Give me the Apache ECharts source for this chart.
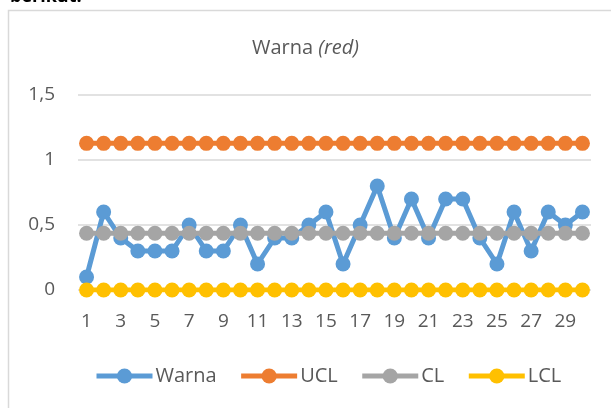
<!doctype html>
<html>
    <head>
        <meta charset="utf-8">
        <style>
            html, body { margin: 0; padding: 0; background: #fff; overflow: hidden; }
            #main { width: 611px; height: 408px; }
            #above {
                position: absolute; left: 10px; top: -17px;
                font: bold 18px "Open Sans", "Noto Sans", sans-serif; color: #000;
            }
        </style>
    </head>
    <body>
        <div id="main"></div>
        <div id="above">berikut:</div>
        <script src="https://cdn.jsdelivr.net/npm/echarts@6/dist/echarts.min.js"></script>
        <script>
            var categories = ['1','2','3','4','5','6','7','8','9','10','11','12','13','14','15',
                '16','17','18','19','20','21','22','23','24','25','26','27','28','29','30'];
            var warna = [0.1, 0.6, 0.4, 0.3, 0.3, 0.3, 0.5, 0.3, 0.3, 0.5, 0.2, 0.4, 0.4, 0.5, 0.6,
                0.2, 0.5, 0.8, 0.4, 0.7, 0.4, 0.7, 0.7, 0.4, 0.2, 0.6, 0.3, 0.6, 0.5, 0.6];
            var ucl = 1.128;
            var cl = 0.436;
            var lcl = 0;

            function constant(v) {
                return categories.map(function () { return v; });
            }

            var font = '"Open Sans", "Noto Sans", sans-serif';
            var chart = echarts.init(document.getElementById('main'));

            function lineSeries(name, data, color) {
                return {
                    name: name,
                    type: 'line',
                    data: data,
                    symbol: 'circle',
                    symbolSize: 15,
                    showAllSymbol: true,
                    lineStyle: { color: color, width: 5 },
                    itemStyle: { color: color },
                    animation: false
                };
            }

            chart.setOption({
                textStyle: { fontFamily: font },
                graphic: [
                    {
                        type: 'rect',
                        shape: { x: 8.5, y: 10.5, width: 640, height: 420 },
                        style: { fill: null, stroke: '#d9d9d9', lineWidth: 1.5 },
                        silent: true
                    }
                ],
                title: {
                    text: 'Warna {i|(red)}',
                    left: 'center',
                    top: 33,
                    textStyle: {
                        fontSize: 20,
                        fontWeight: 'normal',
                        color: '#595959',
                        rich: {
                            i: { fontSize: 20, fontStyle: 'italic', color: '#595959' }
                        }
                    }
                },
                grid: {
                    left: 78,
                    right: 20,
                    top: 95,
                    bottom: 118
                },
                legend: {
                    top: 361,
                    left: 89,
                    itemWidth: 56,
                    itemHeight: 19,
                    itemGap: 22,
                    lineStyle: { width: 5 },
                    textStyle: { fontSize: 20, color: '#595959', padding: [0, 0, 0, -2] },
                    data: ['Warna', 'UCL', 'CL', 'LCL']
                },
                xAxis: {
                    type: 'category',
                    data: categories,
                    boundaryGap: true,
                    axisLine: { show: false },
                    axisTick: { show: false },
                    axisLabel: {
                        interval: 1,
                        fontSize: 19,
                        color: '#595959',
                        margin: 22
                    }
                },
                yAxis: {
                    type: 'value',
                    min: 0,
                    max: 1.5,
                    interval: 0.5,
                    axisLine: { show: false },
                    axisTick: { show: false },
                    splitLine: { lineStyle: { color: '#d9d9d9', width: 1.5 } },
                    axisLabel: {
                        fontSize: 19,
                        color: '#595959',
                        margin: 23,
                        formatter: function (v) { return String(v).replace('.', ','); }
                    }
                },
                series: [
                    lineSeries('Warna', warna, '#5b9bd5'),
                    lineSeries('UCL', constant(ucl), '#ed7d31'),
                    lineSeries('CL', constant(cl), '#a5a5a5'),
                    lineSeries('LCL', constant(lcl), '#ffc000')
                ]
            });

            window.onresize = chart.resize;
        </script>
    </body>
</html>
